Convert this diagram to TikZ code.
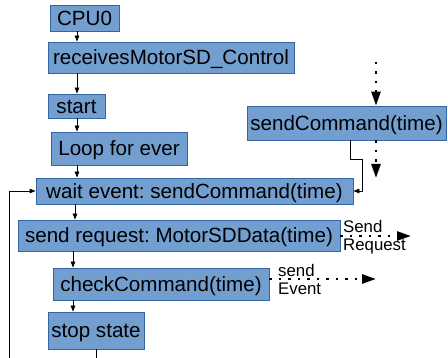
\documentclass[tikz,border=0pt]{standalone}
\usepackage{fontspec}
\setmainfont{Liberation Sans}
\usetikzlibrary{arrows.meta}
\definecolor{boxfill}{HTML}{729FCF}
\definecolor{boxline}{HTML}{3465A4}
\frenchspacing
\begin{document}
\begin{tikzpicture}[x=1pt,y=-1pt,
 box/.style={draw=boxline,fill=boxfill,line width=0.8pt,inner sep=0pt,
   font=\fontsize{20.6}{24}\selectfont,text=black,text height=14.8pt,text depth=0pt},
 arr/.style={line width=0.8pt,-{Triangle[length=6pt,width=4.5pt]}},
 plain/.style={line width=0.8pt},
 dotarr/.style={line width=2.5pt,dash pattern=on 2.5pt off 7pt,
   -{Triangle[length=14pt,width=9pt]}},
 lbl/.style={font=\fontsize{16.8}{18}\selectfont,align=left,inner sep=0pt,anchor=north west}]
\useasboundingbox (0,0) rectangle (448,358);

\node[box,minimum width=69pt,minimum height=26pt] (cpu) at (84.5,18) {CPU0};
\node[box,minimum width=246pt,minimum height=31pt] (rec) at (171,57.5) {receivesMotorSD\_Control};
\node[box,minimum width=57pt,minimum height=24pt] (start) at (76.5,106) {start};
\node[box,minimum width=136pt,minimum height=33pt] (loop) at (119,148.5) {Loop for ever};
\node[box,minimum width=317pt,minimum height=26pt] (wait) at (194.5,191) {wait event: sendCommand(time)};
\node[box,minimum width=199pt,minimum height=34pt] (cmd) at (346.5,123) {sendCommand(time)};
\node[box,minimum width=322pt,minimum height=31pt] (req) at (179,235.5) {send request: MotorSDData(time)};
\node[box,minimum width=216pt,minimum height=32pt] (check) at (161,284) {checkCommand(time)};
\node[box,minimum width=96pt,minimum height=37pt] (stop) at (96,330.5) {stop state};

\coordinate (xa) at (77,0);
\coordinate (xb) at (75,0);
\coordinate (xc) at (73,0);
\draw[arr] (cpu.south -| xa) -- (rec.north -| xa);
\draw[arr] (rec.south -| xa) -- (start.north -| xa);
\draw[arr] (start.south -| xa) -- (loop.north -| xa);
\draw[arr] (loop.south -| xa) -- (wait.north -| xa);
\draw[arr] (wait.south -| xb) -- (req.north -| xb);
\draw[arr] (req.south -| xc) -- (check.north -| xc);
\draw[arr] (check.south -| xc) -- (stop.north -| xc);

\coordinate (sbot) at (96,358);
\draw[plain] (stop.south -| sbot) -- (sbot);
\coordinate (lbot) at (9,358);
\draw[arr] (lbot) |- (wait.west);

\coordinate (e1) at (350,159);
\coordinate (e2) at (362,191);
\draw[arr] (cmd.south -| e1) -- (e1) -| (e2) -- (wait.east);

\coordinate (d1) at (376,62);
\draw[dotarr] (d1) -- (cmd.north -| d1);
\coordinate (d2) at (376,178);
\draw[dotarr] (cmd.south -| d2) -- (d2);
\coordinate (d3) at (411,236);
\draw[dotarr] (req.east |- d3) -- (d3);
\coordinate (d4) at (376,279);
\draw[dotarr] (check.east |- d4) -- (d4);

\node[lbl] (lreq) at (343,220) {Send\\Request};
\node[lbl] (lev) at (278,264) {send\\Event};
\end{tikzpicture}
\end{document}
